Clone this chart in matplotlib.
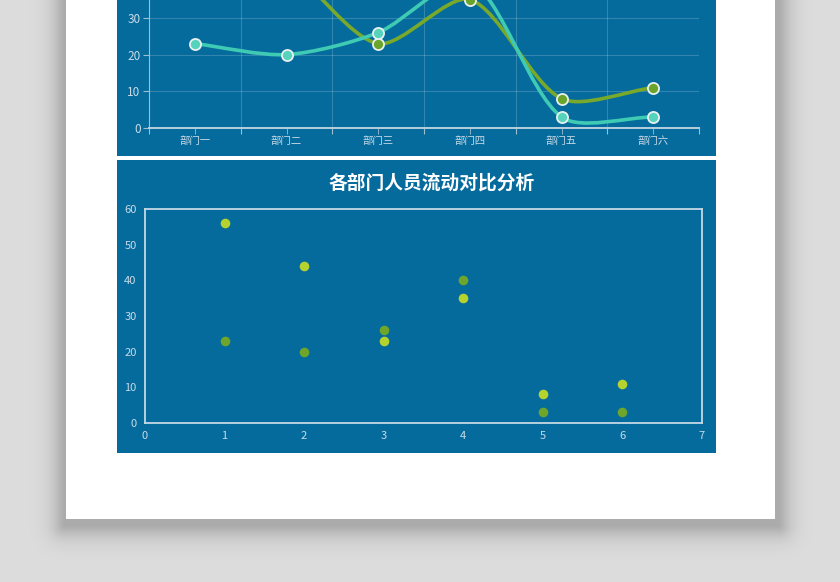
import numpy as np
import matplotlib
matplotlib.use("Agg")
import matplotlib.pyplot as plt
from matplotlib.patches import Rectangle, PathPatch
from matplotlib.path import Path

plt.rcParams['font.family'] = ['Noto Sans CJK SC', 'DejaVu Sans']

# --- dados ---
depts = ["部门一", "部门二", "部门三", "部门四", "部门五", "部门六"]
dept_no = [1, 2, 3, 4, 5, 6]
flow_a = [56, 44, 23, 35, 8, 11]     # linha verde / pontos claros
flow_b = [23, 20, 26, 40, 3, 3]      # linha turquesa / pontos escuros
yticks_line = [0, 10, 20, 30]        # só estes aparecem (topo cortado)
yticks = [0, 10, 20, 30, 40, 50, 60]
xticks_sc = [0, 1, 2, 3, 4, 5, 6, 7]
title = "各部门人员流动对比分析"

BG = "#dcdcdc"
PANEL = "#056b9c"
TXT = "#c9dbe8"
TEAL = "#3fcab4"
TEAL_M = "#55d3bd"
GREEN = "#79a92a"
GREEN_M = "#6aa42a"
LIME = "#b6d22f"
DARK = "#6ea52a"

W, H = 840, 582
fig = plt.figure(figsize=(W / 100, H / 100), dpi=100, facecolor=BG)


def px_rect(x0, y0, x1, y1, **kw):
    r = Rectangle((x0 / W, 1 - y1 / H), (x1 - x0) / W, (y1 - y0) / H,
                  transform=fig.transFigure, **kw)
    fig.add_artist(r)
    return r


def px_axes(x0, y0, x1, y1):
    return fig.add_axes([x0 / W, 1 - y1 / H, (x1 - x0) / W, (y1 - y0) / H])


# sombra suave da folha (imagem), folha branca e painéis azuis
yy, xx = np.mgrid[0:H, 0:W]
dx = np.maximum(np.maximum(64 - xx, xx - 778), 0)
dy = np.maximum(yy - 525, 0)
d = np.hypot(dx, dy)
alpha = 0.22 * np.exp(-(d / 13.0) ** 1.4)
shadow = np.zeros((H, W, 4))
shadow[..., 3] = alpha
fig.figimage(shadow, xo=0, yo=0, origin="upper", zorder=-20)
px_rect(66, -20, 775, 519, facecolor="white", edgecolor="none", zorder=-10)
px_rect(117, -5, 716, 156, facecolor=PANEL, edgecolor="none", zorder=-9)
px_rect(117, 160, 716, 453, facecolor=PANEL, edgecolor="none", zorder=-9)


def smooth_path(x, y, sx, sy, smooth=0.28):
    # curva suave (pontos de controle calculados em pixels)
    P = np.column_stack([np.asarray(x, float) * sx, np.asarray(y, float) * sy])
    n = len(P)
    cin, cout = [], []
    for i in range(n):
        prv = P[max(i - 1, 0)]
        nxt = P[min(i + 1, n - 1)]
        v = (nxt - prv) * smooth
        lp = np.linalg.norm(P[i] - prv)
        ln = np.linalg.norm(nxt - P[i])
        tot = lp + ln if lp + ln > 0 else 1
        cin.append(P[i] - v * lp / tot)
        cout.append(P[i] + v * ln / tot)
    verts = [P[0]]
    codes = [Path.MOVETO]
    for i in range(n - 1):
        verts += [cout[i], cin[i + 1], P[i + 1]]
        codes += [Path.CURVE4] * 3
    verts = np.array(verts) / [sx, sy]
    return Path(verts, codes)


# --- gráfico de linhas (cortado no topo) ---
ax = px_axes(149, 128 - 60 * 3.67, 699, 128)
ax.set_facecolor("none")
cx = np.arange(len(depts)) + 0.5
for vals, lc, mc in [(flow_a, GREEN, GREEN_M), (flow_b, TEAL, TEAL_M)]:
    ax.add_patch(PathPatch(smooth_path(cx, vals, 91.67, 3.67), facecolor="none",
                           edgecolor=lc, lw=2.6, zorder=3))
    ax.plot(cx, vals, "o", ms=8, mfc=mc, mec="#e8f0f0", mew=1.3, zorder=4)
ax.set_xlim(0, len(depts))
ax.set_ylim(0, 60)
ax.set_xticks(np.arange(len(depts) + 1))
ax.set_xticklabels([])
ax.set_xticks(cx, minor=True)
ax.set_xticklabels(depts, minor=True, fontsize=7.5, color=TXT)
ax.tick_params(axis="x", which="minor", length=4, color="#9fbdd0", pad=2)
ax.tick_params(axis="x", which="major", length=4, color="#9fbdd0", direction="out")
ax.set_yticks(yticks)
ax.set_yticklabels([str(v) if v in yticks_line else "" for v in yticks],
                   fontsize=8.5, color=TXT)
ax.tick_params(axis="y", length=4, color="#9fbdd0", pad=2)
ax.grid(True, color="white", alpha=0.18, lw=0.8)
ax.set_axisbelow(True)
for sp in ["top", "right"]:
    ax.spines[sp].set_visible(False)
ax.spines["left"].set_color("#9fbdd0")
ax.spines["bottom"].set_color("#b8cfdd")
ax.spines["bottom"].set_linewidth(1.4)

# --- gráfico de dispersão ---
ax2 = px_axes(145, 209, 702, 423)
ax2.set_facecolor("none")
ax2.scatter(dept_no, flow_a, s=48, color=LIME, zorder=3, linewidths=0)
ax2.scatter(dept_no, flow_b, s=48, color=DARK, zorder=3, linewidths=0)
ax2.set_xlim(0, 7)
ax2.set_ylim(0, 60)
ax2.set_xticks(xticks_sc)
ax2.set_xticklabels([str(v) for v in xticks_sc], fontsize=8, color=TXT)
ax2.set_yticks(yticks)
ax2.set_yticklabels([str(v) for v in yticks], fontsize=8, color=TXT)
ax2.tick_params(length=0, pad=6)
for sp in ax2.spines.values():
    sp.set_color("#c4d9e6")
    sp.set_linewidth(1.3)
fig.text(432 / W, 1 - 183 / H, title, ha="center", va="center",
         fontsize=13.5, fontweight="bold", color="white")

fig.savefig("out.png", dpi=100, facecolor=BG)
